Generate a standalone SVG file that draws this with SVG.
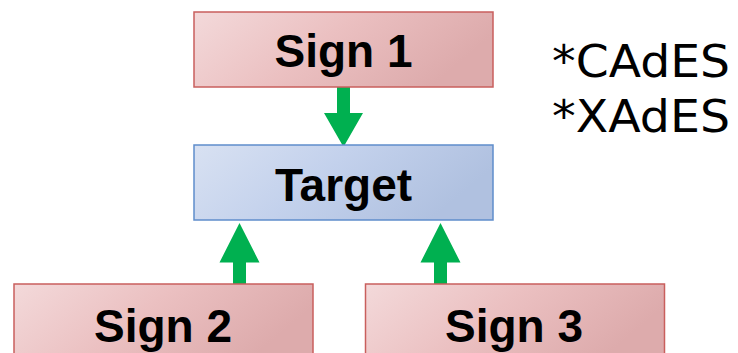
<svg xmlns="http://www.w3.org/2000/svg" width="738" height="353" viewBox="0 0 738 353">
  <style>
    .sign { fill: url(#redFill); stroke: #c95f5d; stroke-width: 1.5; }
    .target { fill: url(#blueFill); stroke: #5f8dcb; stroke-width: 1.5; }
    .label { font-family: "Liberation Sans", Arial, sans-serif; font-weight: bold; font-size: 46px; fill: #000; text-anchor: middle; }
    .note { font-family: "DejaVu Sans", Verdana, sans-serif; font-size: 45px; fill: #000; }
    .arrow { fill: #00b050; }
  </style>
  <defs>
    <linearGradient id="redFill" x1="0" y1="0" x2="1" y2="0.3">
      <stop offset="0" stop-color="#f3d9da"/>
      <stop offset="0.5" stop-color="#ebc0c1"/>
      <stop offset="1" stop-color="#ddabac"/>
    </linearGradient>
    <linearGradient id="blueFill" x1="0" y1="0" x2="1" y2="0.3">
      <stop offset="0" stop-color="#d8e1f2"/>
      <stop offset="0.5" stop-color="#c3d1ec"/>
      <stop offset="1" stop-color="#b0c1e0"/>
    </linearGradient>
  </defs>

  <g id="connectors">
    <!-- Sign 1 -> Target -->
    <polygon class="arrow" points="337,87 350,87 350,113 363,113 343.5,147 324,113 337,113"/>
    <!-- Sign 2 -> Target -->
    <polygon class="arrow" points="233,284 246,284 246,262.5 259.5,262.5 239.5,223 219.5,262.5 233,262.5"/>
    <!-- Sign 3 -> Target -->
    <polygon class="arrow" points="434,284 447,284 447,262.5 460.5,262.5 440.5,223 420.5,262.5 434,262.5"/>
  </g>

  <g id="sign1">
    <rect class="sign" x="194" y="12" width="299" height="75"/>
    <text class="label" x="343.5" y="66.5">Sign 1</text>
  </g>

  <g id="target">
    <rect class="target" x="194" y="145" width="299" height="75"/>
    <text class="label" x="343.5" y="201">Target</text>
  </g>

  <g id="sign2">
    <rect class="sign" x="14" y="284" width="299" height="75"/>
    <text class="label" x="163" y="341.5">Sign 2</text>
  </g>

  <g id="sign3">
    <rect class="sign" x="365.5" y="284" width="299" height="75"/>
    <text class="label" x="514" y="341.5">Sign 3</text>
  </g>

  <g id="formats">
    <text class="note" x="552" y="76.5" textLength="178" lengthAdjust="spacingAndGlyphs">*CAdES</text>
    <text class="note" x="552" y="131.5" textLength="178" lengthAdjust="spacingAndGlyphs">*XAdES</text>
  </g>
</svg>
